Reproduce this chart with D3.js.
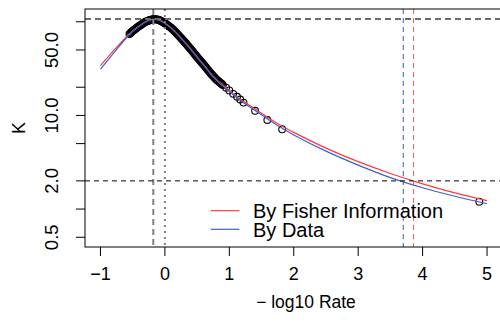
<!DOCTYPE html>
<html>
<head>
<meta charset="utf-8">
<script src="https://cdn.jsdelivr.net/npm/d3@7"></script>
<style>
body { margin: 0; background: #fff; }
text { font-family: "Liberation Sans", Arial, Helvetica, sans-serif; fill: #000; }
</style>
</head>
<body>
<div id="chart"></div>
<script>
// curves: K against -log10 rate
var curveX = [-1, -0.8, -0.6, -0.5, -0.4, -0.3, -0.2, -0.1, 0, 0.1, 0.2, 0.3, 0.4, 0.5, 0.6, 0.7, 0.8,
              1.0, 1.2, 1.4, 1.6, 1.8, 2.0, 2.5, 3.0, 3.5, 4.0, 4.5, 5.0];
var fisherK = [34.0, 48.8, 68.8, 79.8, 90.2, 100, 106, 105, 96.4, 85.9, 73.2, 61.6, 51.2, 42.1, 35.0, 28.7, 24.2,
               18.5, 14.4, 11.7, 9.51, 7.81, 6.59, 4.48, 3.21, 2.40, 1.86, 1.49, 1.23];
var dataK = [31.3, 45.9, 67.1, 78.8, 89.6, 99.5, 105.5, 104.5, 96.0, 85.5, 72.7, 61.1, 50.7, 41.6, 34.5, 28.2, 23.7,
             18.1, 14.0, 11.3, 9.10, 7.42, 6.19, 4.16, 2.95, 2.17, 1.69, 1.37, 1.14];

// observed points
var obsX = [-0.55, -0.525, -0.5, -0.475, -0.45, -0.425, -0.4, -0.375, -0.35, -0.325, -0.3, -0.275, -0.25, -0.225,
            -0.2, -0.175, -0.15, -0.125, -0.1, -0.075, -0.05, -0.025, 0, 0.025, 0.05, 0.075, 0.1, 0.125, 0.15, 0.175,
            0.2, 0.225, 0.25, 0.275, 0.3, 0.325, 0.35, 0.375, 0.4, 0.425, 0.45, 0.475, 0.5, 0.525, 0.55, 0.575,
            0.6, 0.625, 0.65, 0.675, 0.7, 0.725, 0.75, 0.775, 0.8, 0.825, 0.85, 0.875, 0.9, 0.95, 1.0, 1.06, 1.12, 1.17,
            1.22, 1.40, 1.59, 1.82, 4.88];
var obsK = [74.1, 76.9, 79.8, 82.3, 84.8, 87.5, 90.2, 92.6, 95.0, 97.5, 100, 101.6, 103.2, 104.6,
            106.1, 106.3, 106.2, 105.8, 105.1, 103.3, 101.2, 98.9, 96.4, 93.8, 91.1, 88.5, 85.9, 82.6, 79.4, 76.3,
            73.2, 70.1, 67.1, 64.3, 61.6, 58.9, 56.2, 53.6, 51.2, 48.8, 46.4, 44.2, 42.1, 40.2, 38.4, 36.6,
            35.0, 33.3, 31.7, 30.2, 28.7, 27.5, 26.4, 25.3, 24.2, 23.4, 22.6, 21.9, 21.1, 19.8, 18.5, 17.0, 15.8, 14.8,
            13.7, 11.2, 8.94, 7.11, 1.20];
// the dense run has more points in between
var obsX2 = [-0.5375, -0.5125, -0.4875, -0.4625, -0.4375, -0.4125, -0.3875, -0.3625, -0.3375, -0.3125,
             -0.2875, -0.2625, -0.2375, -0.2125, -0.1875, -0.1625, -0.1375, -0.1125, -0.0875, -0.0625,
             -0.0375, -0.0125, 0.0125, 0.0375, 0.0625, 0.0875, 0.1125, 0.1375, 0.1625, 0.1875,
             0.2125, 0.2375, 0.2625, 0.2875, 0.3125, 0.3375, 0.3625, 0.3875, 0.4125, 0.4375,
             0.4625, 0.4875, 0.5125, 0.5375, 0.5625, 0.5875, 0.6125, 0.6375, 0.6625, 0.6875,
             0.7125, 0.7375, 0.7625, 0.7875, 0.8125, 0.8375, 0.8625, 0.8875];
var obsK2 = [75.5, 78.3, 81.0, 83.5, 86.1, 88.8, 91.4, 93.8, 96.2, 98.7,
             100.8, 102.4, 103.9, 105.4, 106.2, 106.3, 106.0, 105.5, 104.2, 102.2,
             100.0, 97.6, 95.1, 92.4, 89.8, 87.2, 84.2, 81.0, 77.8, 74.7,
             71.6, 68.6, 65.7, 62.9, 60.2, 57.5, 54.9, 52.4, 50.0, 47.6,
             45.3, 43.1, 41.1, 39.3, 37.5, 35.8, 34.1, 32.5, 30.9, 29.4,
             28.1, 26.9, 25.8, 24.7, 23.8, 23.0, 22.2, 21.5];

// reference lines
var peakX = -0.18, peakK = 107, zeroX = 0;
var refK = 2, fisherCut = 3.86, dataCut = 3.70;

var xTicks = [-1, 0, 1, 2, 3, 4, 5];
var yTicks = [0.5, 1, 2, 5, 10, 20, 50, 100];
var yLabels = [0.5, 2, 10, 50];
var legendNames = ["By Fisher Information", "By Data"];

var width = 500, height = 324;
var padL = 85, padR = 502.5, padT = 9, padB = 247;

var x = d3.scaleLinear().domain([-1.24, 5.24]).range([padL, padR]);
var y = d3.scaleLog().domain([0.3936, 136.9]).range([padB, padT]);

var red = "#ff3a3a", blue = "#3f5fcf";

var svg = d3.select("#chart").append("svg")
    .attr("width", width).attr("height", height);

svg.append("clipPath").attr("id", "clip")
    .append("rect").attr("x", padL).attr("y", padT)
    .attr("width", padR - padL).attr("height", padB - padT);

var plot = svg.append("g").attr("clip-path", "url(#clip)");

// points first, curves on top
var obs = obsX.map(function(d, i) { return [d, obsK[i]]; })
    .concat(obsX2.map(function(d, i) { return [d, obsK2[i]]; }));
plot.selectAll("circle")
    .data(obs)
    .enter().append("circle")
    .attr("cx", function(d) { return x(d[0]); })
    .attr("cy", function(d) { return y(d[1]); })
    .attr("r", 3.4)
    .attr("fill", "none")
    .attr("stroke", "#000")
    .attr("stroke-width", 1.1);

var line = d3.line()
    .x(function(d) { return x(d[0]); })
    .y(function(d) { return y(d[1]); })
    .curve(d3.curveCatmullRom.alpha(0.5));

plot.append("path")
    .datum(curveX.map(function(d, i) { return [d, fisherK[i]]; }))
    .attr("d", line).attr("fill", "none").attr("stroke", red).attr("stroke-width", 1.2);
plot.append("path")
    .datum(curveX.map(function(d, i) { return [d, dataK[i]]; }))
    .attr("d", line).attr("fill", "none").attr("stroke", blue).attr("stroke-width", 1.2);

function vline(v, col, w, dash) {
    plot.append("line")
        .attr("x1", x(v)).attr("x2", x(v)).attr("y1", padT).attr("y2", padB)
        .attr("stroke", col).attr("stroke-width", w).attr("stroke-dasharray", dash);
}
function hline(v, col, w, dash) {
    plot.append("line")
        .attr("x1", padL).attr("x2", padR).attr("y1", y(v)).attr("y2", y(v))
        .attr("stroke", col).attr("stroke-width", w).attr("stroke-dasharray", dash);
}

vline(peakX, "#808080", 2, "6,4");
vline(zeroX, "#808080", 2, "2,4");
hline(peakK, "#6a6a6a", 2, "6,4");
hline(refK, "#000", 1, "5,4");
vline(dataCut, "#4455bb", 1, "5,4");
vline(fisherCut, "#ee5a5a", 1, "5,4");

// box
svg.append("rect")
    .attr("x", padL).attr("y", padT)
    .attr("width", padR - padL).attr("height", padB - padT)
    .attr("fill", "none").attr("stroke", "#000").attr("stroke-width", 1);

// x axis
var xAxis = svg.append("g");
xAxis.selectAll("line").data(xTicks).enter().append("line")
    .attr("x1", function(d) { return x(d); }).attr("x2", function(d) { return x(d); })
    .attr("y1", padB).attr("y2", padB + 9)
    .attr("stroke", "#000");
xAxis.selectAll("text").data(xTicks).enter().append("text")
    .attr("x", function(d) { return x(d); }).attr("y", 280)
    .attr("text-anchor", "middle").style("font-size", "18px")
    .text(function(d) { return d < 0 ? "\u2212" + Math.abs(d) : d; });

// y axis
var yAxis = svg.append("g");
yAxis.selectAll("line").data(yTicks).enter().append("line")
    .attr("x1", padL - 9).attr("x2", padL)
    .attr("y1", function(d) { return y(d); }).attr("y2", function(d) { return y(d); })
    .attr("stroke", "#000");
var fmt = d3.format(".1f");
yAxis.selectAll("text").data(yLabels).enter().append("text")
    .attr("transform", function(d) { return "translate(58," + y(d) + ") rotate(-90)"; })
    .attr("text-anchor", "middle").style("font-size", "18.5px")
    .text(function(d) { return fmt(d); });

// titles
svg.append("text")
    .attr("x", 306).attr("y", 308)
    .attr("text-anchor", "middle").style("font-size", "17.5px")
    .text("\u2212 log10 Rate");
svg.append("text")
    .attr("transform", "translate(25," + ((padT + padB) / 2) + ") rotate(-90)")
    .attr("text-anchor", "middle").style("font-size", "18px")
    .text("K");

// legend
var legendColors = [red, blue];
var legend = svg.append("g");
legendNames.forEach(function(name, i) {
    var ly = 210.7 + i * 18.6;
    legend.append("line")
        .attr("x1", 210.7).attr("x2", 239.3).attr("y1", ly).attr("y2", ly)
        .attr("stroke", legendColors[i]).attr("stroke-width", 1.2);
    legend.append("text")
        .attr("x", 253).attr("y", ly + 7.2)
        .style("font-size", "20px")
        .text(name);
});
</script>
</body>
</html>
